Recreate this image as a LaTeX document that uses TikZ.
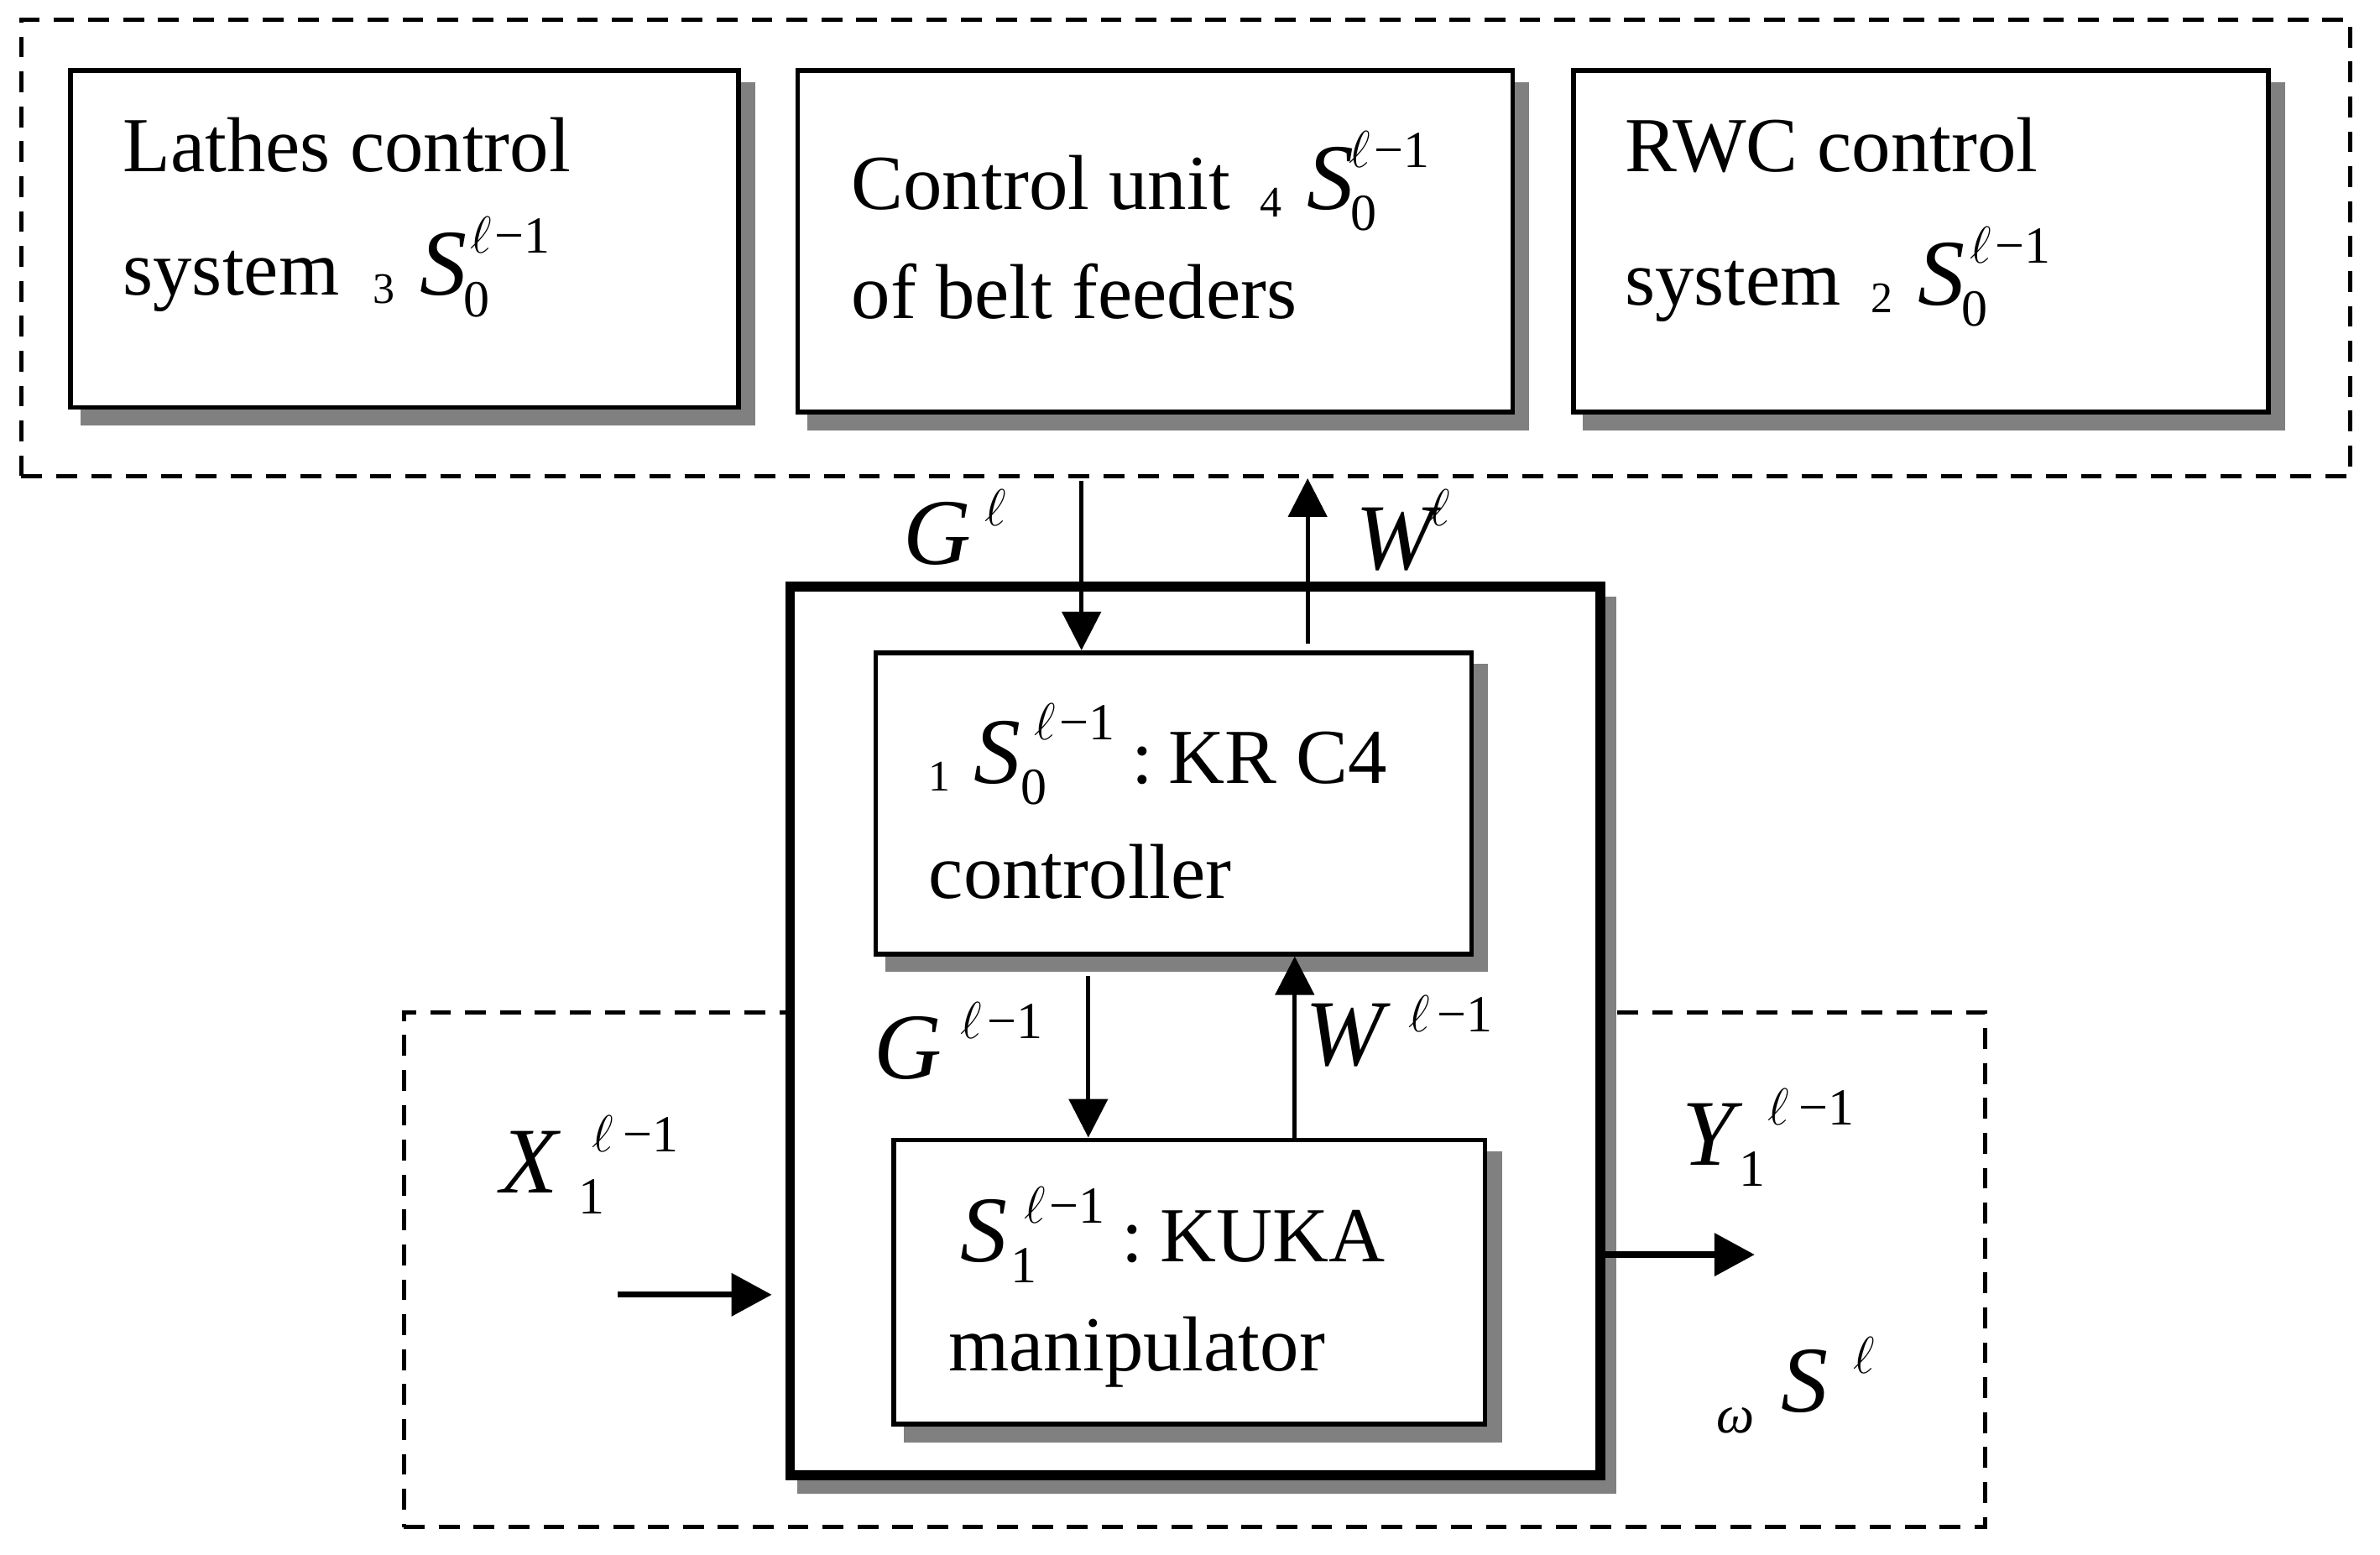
\documentclass[tikz,border=0pt]{standalone}
\usepackage{fix-cm}
\usepackage{fontspec}
\setmainfont{Liberation Serif}
\usetikzlibrary{arrows.meta,fit}
\definecolor{shadowgray}{HTML}{808080}
\newcommand{\txt}{\fontsize{23.2}{28}\selectfont}
\newcommand{\mvar}[1]{{\fontsize{28}{30}\selectfont\itshape #1}}
\newcommand{\scrp}[1]{{\fontsize{15.5}{16}\selectfont #1}}
\newcommand{\lsub}[2][7.5pt]{\raisebox{-2.3pt}{\fontsize{13}{14}\selectfont #2}\kern#1}
\newcommand{\ellm}[1]{$\ell$\kern#1−1}
% \Sym{letter}{sub}{sup}{subkern}{supkern}{supraise}
\newcommand{\Sym}[6]{\mvar{#1}\rlap{\kern#4\raisebox{-6.3pt}{\scrp{#2}}}\kern#5\raisebox{#6}{\scrp{#3}}}
\begin{document}
\begin{tikzpicture}[x=0.4522pt,y=-0.4522pt,
  box/.style={draw, line width=1.4pt, fill=white, inner sep=0pt},
  bigbox/.style={draw, line width=2.9pt, fill=white, inner sep=0pt},
  dashbox/.style={draw, line width=1.3pt, dash pattern=on 6.2pt off 4.2pt, inner sep=0pt},
  shade/.style={fill=shadowgray},
  arr/.style={line width=1.25pt, -{Triangle[length=11.5pt,width=11.5pt]}},
  thickarr/.style={line width=1.8pt, -{Triangle[length=12pt,width=12.5pt]}},
  lbl/.style={inner sep=0pt, outer sep=0pt, anchor=base west, font=\txt}]
\useasboundingbox (0,0) rectangle (1568,1024);
\fill[white] (0,0) rectangle (1568,1024);

% upper dashed frame
\coordinate (tda) at (14,13); \coordinate (tdb) at (1548.5,313.7);
\node[dashbox, fit=(tda)(tdb)] (tdash) {};

% top boxes
\coordinate (b1a) at (46.5,46.5); \coordinate (b1b) at (486.5,268.5);
\fill[shade] ([shift={(6.5,7.5)}]b1a) rectangle ([shift={(11,12)}]b1b);
\node[box, fit=(b1a)(b1b)] (b1) {};
\coordinate (b2a) at (525.5,46.5); \coordinate (b2b) at (996.5,271.5);
\fill[shade] ([shift={(6.5,7.5)}]b2a) rectangle ([shift={(11,12)}]b2b);
\node[box, fit=(b2a)(b2b)] (b2) {};
\coordinate (b3a) at (1036.5,46.5); \coordinate (b3b) at (1494.5,271.5);
\fill[shade] ([shift={(6.5,7.5)}]b3a) rectangle ([shift={(11,12)}]b3b);
\node[box, fit=(b3a)(b3b)] (b3) {};

% lower dashed frame
\coordinate (lda) at (266,667); \coordinate (ldb) at (1308,1006);
\node[dashbox, fit=(lda)(ldb)] (ldash) {};

% big box
\coordinate (bga) at (520.5,386.5); \coordinate (bgb) at (1054.5,972);
\fill[shade] ([shift={(5,6.5)}]bga) rectangle ([shift={(10.5,12)}]bgb);
\node[bigbox, fit=(bga)(bgb)] (big) {};

% inner boxes
\coordinate (cta) at (577,430); \coordinate (ctb) at (969.5,628.5);
\fill[shade] ([shift={(6.5,7.5)}]cta) rectangle ([shift={(11,12)}]ctb);
\node[box, fit=(cta)(ctb)] (ctrl) {};
\coordinate (kka) at (588.7,751); \coordinate (kkb) at (978.4,938.3);
\fill[shade] ([shift={(6.5,7.5)}]kka) rectangle ([shift={(11,12)}]kkb);
\node[box, fit=(kka)(kkb)] (kuka) {};

% connectors
\coordinate (gin) at (712.5,317);
\draw[arr] (gin) -- (gin |- ctrl.north);
\coordinate (wout) at (861.5,424);
\draw[arr] (wout) -- (wout |- tdash.south);
\coordinate (gin2) at (717,643);
\draw[arr] (gin2) -- (gin2 |- kuka.north);
\coordinate (wout2) at (853,700);
\draw[arr] (wout2 |- kuka.north) -- (wout2 |- ctrl.south);
\coordinate (xin) at (407,853);
\draw[thickarr, shorten >=4pt] (xin) -- (xin -| big.west);
\coordinate (yout) at (1156,826.6);
\draw[thickarr] (yout -| big.east) -- (yout);

% box texts
\node[lbl] (t1a) at (81,113) {Lathes control};
\node[lbl] (t1b) at (81,194.6) {system\kern10pt\lsub{3}\Sym{S}{0}{\ellm{1pt}}{-1pt}{1pt}{12.5pt}};
\node[lbl] (t2a) at (561,138) {Control unit\kern9pt\lsub{4}\Sym{S}{0}{\ellm{1pt}}{-1pt}{-1.5pt}{12.5pt}};
\node[lbl] (t2b) at (561,209.6) {of belt feeders};
\node[lbl] (t3a) at (1070.5,112.8) {RWC control};
\node[lbl] (t3b) at (1070.5,201) {system\kern9pt\lsub{2}\Sym{S}{0}{\ellm{1pt}}{-1pt}{1.5pt}{12.5pt}};
\node[lbl] (c1) at (612,516) {\lsub[7pt]{1}\Sym{S}{0}{\ellm{1pt}}{0pt}{4pt}{13pt}\kern5pt:\kern4.5pt KR C4};
\node[lbl] (c2) at (612,592) {controller};
\node[lbl] (k1) at (633,831) {\Sym{S}{1}{\ellm{1pt}}{1pt}{5pt}{11.5pt}\kern5pt:\kern5pt KUKA};
\node[lbl] (k2) at (625,903) {manipulator};

% signal labels
\node[lbl] (lG) at (595,372) {\Sym{G}{}{$\ell$}{0pt}{4pt}{11.5pt}};
\node[lbl] (lW) at (893,375) {\Sym{W}{}{$\ell$}{0pt}{-1.5pt}{13pt}};
\node[lbl] (lG2) at (576,710.5) {\Sym{G}{}{\ellm{1.5pt}}{0pt}{5.5pt}{12pt}};
\node[lbl] (lW2) at (860,702) {\Sym{W}{}{\ellm{2pt}}{0pt}{7.5pt}{10pt}};
\node[lbl] (lX) at (330,786) {\Sym{X}{1}{\ellm{3pt}}{6pt}{10pt}{12.2pt}};
\node[lbl] (lY) at (1108,767.5) {\Sym{Y}{1}{\ellm{3pt}}{1.5pt}{10pt}{12pt}};
\node[lbl] (lS) at (1131,930) {\raisebox{-6.3pt}{\fontsize{16}{16}\selectfont\itshape ω}\kern8pt\Sym{S}{}{$\ell$}{0pt}{7.5pt}{11.3pt}};
\end{tikzpicture}
\end{document}
